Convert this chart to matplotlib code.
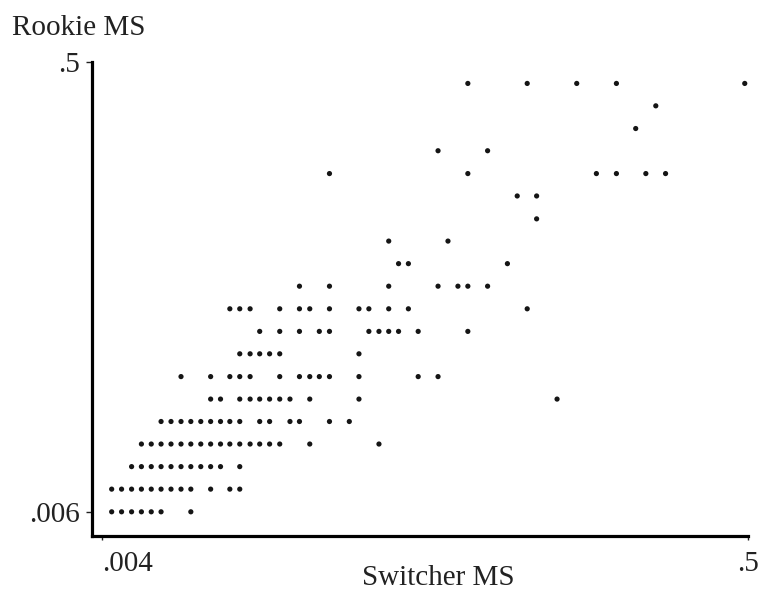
import matplotlib
matplotlib.use("Agg")
import matplotlib.pyplot as plt

# Rookie market-share levels (one per row of points, top to bottom)
rookie_ms = [0.405, 0.325, 0.260, 0.209, 0.167, 0.134, 0.107, 0.0860, 0.0689, 0.0552,
             0.0442, 0.0354, 0.0284, 0.0227, 0.0182, 0.0146, 0.0117, 0.00937, 0.00751, 0.00601]

# Switcher market shares observed at each rookie level
switcher_ms = [
    [0.0616, 0.0960, 0.139, 0.187, 0.488],
    [0.251],
    [0.216],
    [0.0493, 0.0714],
    [0.0219, 0.0616, 0.161, 0.187, 0.233, 0.270],
    [0.0891, 0.103],
    [0.103],
    [0.0341, 0.0531],
    [0.0367, 0.0395, 0.0828],
    [0.0175, 0.0219, 0.0341, 0.0493, 0.0572, 0.0616, 0.0714],
    [0.0104, 0.0112, 0.0121, 0.0151, 0.0175, 0.0189, 0.0219, 0.0273, 0.0294, 0.0341, 0.0395, 0.0960],
    [0.0130, 0.0151, 0.0175, 0.0203, 0.0219, 0.0294, 0.0317, 0.0341, 0.0367, 0.0425, 0.0616],
    [0.0112, 0.0121, 0.0130, 0.0140, 0.0151, 0.0273],
    [0.00722, 0.00901, 0.0104, 0.0112, 0.0121, 0.0151, 0.0175, 0.0189, 0.0203, 0.0219, 0.0273, 0.0425, 0.0493],
    [0.00901, 0.00970, 0.0112, 0.0121, 0.0130, 0.0140, 0.0151, 0.0163, 0.0189, 0.0273, 0.120],
    [0.00622, 0.00670, 0.00722, 0.00777, 0.00837, 0.00901, 0.00970, 0.0104, 0.0112, 0.0130, 0.0140,
     0.0163, 0.0175, 0.0219, 0.0254],
    [0.00537, 0.00578, 0.00622, 0.00670, 0.00722, 0.00777, 0.00837, 0.00901, 0.00970, 0.0104, 0.0112,
     0.0121, 0.0130, 0.0140, 0.0151, 0.0189, 0.0317],
    [0.00499, 0.00537, 0.00578, 0.00622, 0.00670, 0.00722, 0.00777, 0.00837, 0.00901, 0.00970, 0.0112],
    [0.00430, 0.00463, 0.00499, 0.00537, 0.00578, 0.00622, 0.00670, 0.00722, 0.00777, 0.00901, 0.0104, 0.0112],
    [0.00430, 0.00463, 0.00499, 0.00537, 0.00578, 0.00622, 0.00777],
]

x_ticks = [0.004, 0.5]
x_ticklabels = [".004", ".5"]
y_ticks = [0.006, 0.5]
y_ticklabels = [".006", ".5"]

plt.rcParams['font.family'] = ['Liberation Serif', 'DejaVu Serif']

W, H = 759, 600
fig = plt.figure(figsize=(W / 100, H / 100), dpi=100)
ax = fig.add_axes([92 / W, (H - 536) / H, (748 - 92) / W, (536 - 62) / H])

xs, ys = [], []
for yv, row in zip(rookie_ms, switcher_ms):
    for xv in row:
        xs.append(xv)
        ys.append(yv)

ax.scatter(xs, ys, s=14, marker='o', color='#151515', edgecolors='none', zorder=3)

ax.set_xscale('log')
ax.set_yscale('log')
ax.set_xlim(0.003712, 0.5)
ax.set_ylim(0.004738, 0.5)

ax.set_xticks(x_ticks)
ax.set_xticklabels(x_ticklabels)
ax.set_yticks(y_ticks)
ax.set_yticklabels(y_ticklabels)
ax.xaxis.set_minor_locator(matplotlib.ticker.NullLocator())
ax.yaxis.set_minor_locator(matplotlib.ticker.NullLocator())

ax.tick_params(axis='x', direction='out', length=3, width=1, labelsize=21, pad=8, colors='#222222')
ax.tick_params(axis='y', direction='out', length=4, width=1, labelsize=21, pad=5, colors='#222222')
ax.get_xticklabels()[0].set_horizontalalignment('left')

for side in ['top', 'right']:
    ax.spines[side].set_visible(False)
for side in ['left', 'bottom']:
    ax.spines[side].set_linewidth(2.3)
    ax.spines[side].set_color('black')

fig.text(12 / W, 1 - 35 / H, "Rookie MS", fontsize=21, ha='left', va='baseline', color='#222222')
fig.text(438 / W, 1 - 578 / H, "Switcher MS", fontsize=21, ha='center', va='center', color='#222222')

fig.savefig("out.png", dpi=100, facecolor='white')
